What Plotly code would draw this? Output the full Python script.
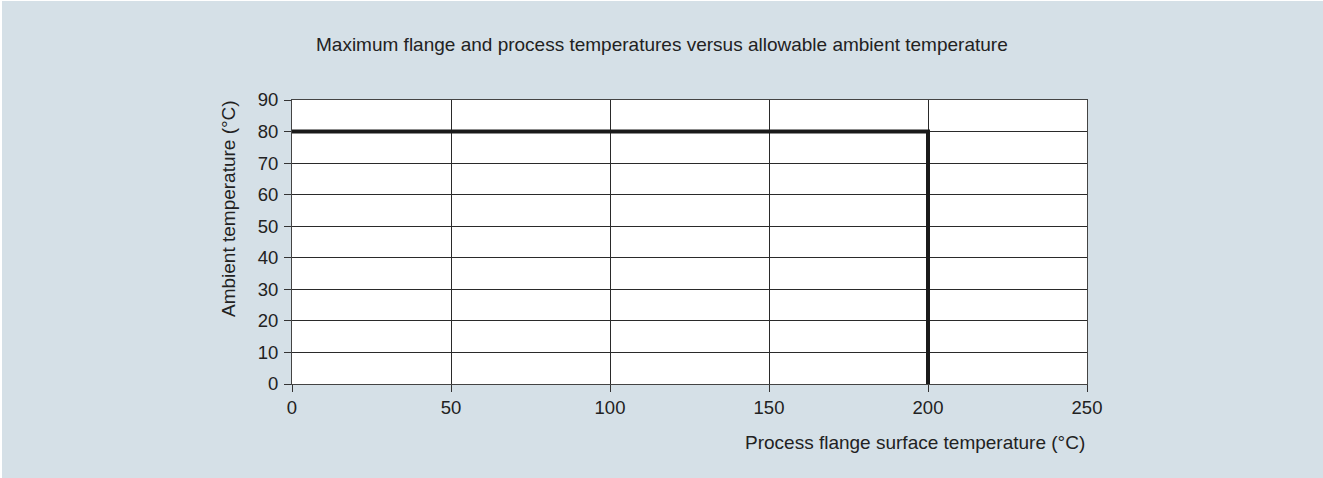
import plotly.graph_objects as go

# Data
flange_temp = [0, 200, 200]
ambient_temp = [80, 80, 0]
x_ticks = [0, 50, 100, 150, 200, 250]
y_ticks = [0, 10, 20, 30, 40, 50, 60, 70, 80, 90]

title_text = "Maximum flange and process temperatures versus allowable ambient temperature"
x_title = "Process flange surface temperature (°C)"
y_title = "Ambient temperature (°C)"

BG = "#d5e0e7"
TXT = "#222222"
FONT = "Liberation Sans, Arial, sans-serif"

fig = go.Figure()
fig.add_trace(go.Scatter(
    x=flange_temp, y=ambient_temp, mode="lines",
    line=dict(color="#1a1a1a", width=4),
    hoverinfo="skip", showlegend=False,
))

W, H = 1323, 478
OX, OY = 2, 1  # page offset
L, R, T, B = 292 - OX, 236 + OX, 100 - OY, 94 + OY

fig.update_layout(
    width=W, height=H,
    margin=dict(l=L, r=R, t=T, b=B, pad=0),
    paper_bgcolor=BG, plot_bgcolor="white",
    font=dict(family=FONT, size=18.5, color=TXT),
    showlegend=False,
)
axis_common = dict(
    showgrid=True, gridcolor="#2a2a2a", gridwidth=1,
    showline=True, linecolor="#444444", linewidth=1, mirror=True,
    ticks="outside", ticklen=7, tickcolor="#333333", tickwidth=1,
    zeroline=False, tickfont=dict(size=18.5, color=TXT),
)
fig.update_xaxes(range=[0, 250], tickvals=x_ticks,
                 ticktext=[str(v) for v in x_ticks], ticklabelstandoff=0, **axis_common)
fig.update_yaxes(range=[0, 90], tickvals=y_ticks,
                 ticktext=[str(v) for v in y_ticks], ticklabelstandoff=2, **axis_common)

plot_w = W - L - R
plot_h = H - T - B

def px(xp):
    return (xp - OX - L) / plot_w

def py(yp):
    return (H - B - (yp - OY)) / plot_h

annotations = [
    dict(text=title_text, xref="paper", yref="paper",
         x=px(662), y=py(44), xanchor="center", yanchor="middle", showarrow=False,
         font=dict(size=19, color=TXT)),
    dict(text=x_title, xref="paper", yref="paper",
         x=px(1087), y=py(442), xanchor="right", yanchor="middle", showarrow=False,
         font=dict(size=19, color=TXT)),
    dict(text=y_title, xref="paper", yref="paper",
         x=px(228), y=py(209), xanchor="center", yanchor="middle", showarrow=False,
         textangle=-90, font=dict(size=19, color=TXT)),
]
fig.update_layout(annotations=annotations)

fig.write_html("out.html")

with open("out.html", "r", encoding="utf-8") as f:
    html = f.read()
html = html.replace(
    "<body>",
    "<body style=\"margin:%dpx 0 0 %dpx;background:#ffffff;overflow:hidden;\">" % (OY, OX),
    1,
)
with open("out.html", "w", encoding="utf-8") as f:
    f.write(html)
